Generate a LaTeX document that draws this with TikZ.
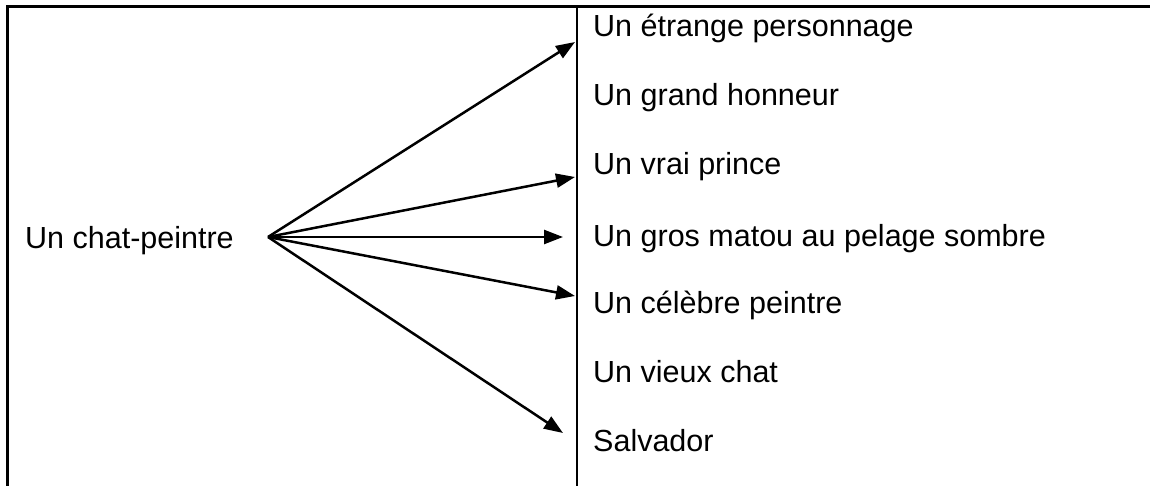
\documentclass[tikz,border=0pt]{standalone}
\usepackage{fontspec}
\setmainfont{Liberation Sans}
\usetikzlibrary{arrows.meta}
\tikzset{
  lbl/.style={anchor=base west, inner sep=0pt, font=\fontsize{30.5}{36}\selectfont},
  conn/.style={line width=2.5pt, -{Triangle[length=19pt, width=14pt]}},
  frame/.style={line width=3pt},
  divider/.style={line width=2pt}
}
\begin{document}
\begin{tikzpicture}[x=1pt,y=-1pt]
\useasboundingbox (0,0) rectangle (1150,486);
% frame
\draw[frame] (1150,7) -- (7.8,7) -- (7.8,486);
\draw[divider] (577,7) -- (577,486);
% texts
\node[lbl] (src) at (25,248) {Un chat-peintre};
\node[lbl] (t1) at (593,37) {Un étrange personnage};
\node[lbl] (t2) at (593,106) {Un grand honneur};
\node[lbl] (t3) at (593,175) {Un vrai prince};
\node[lbl] (t4) at (593,247) {Un gros matou au pelage sombre};
\node[lbl] (t5) at (593,313) {Un célèbre peintre};
\node[lbl] (t6) at (593,382) {Un vieux chat};
\node[lbl] (t7) at (593,451) {Salvador};
% connectors
\coordinate (hub) at (268,237);
\coordinate (e1) at (575,42);
\coordinate (e3) at (575,177);
\coordinate (e4) at (563,237);
\coordinate (e5) at (575,296);
\coordinate (e7) at (563,433);
\draw[conn] (hub) -- (e1);
\draw[conn] (hub) -- (e3);
\draw[conn] (hub) -- (e4);
\draw[conn] (hub) -- (e5);
\draw[conn] (hub) -- (e7);
\end{tikzpicture}
\end{document}
